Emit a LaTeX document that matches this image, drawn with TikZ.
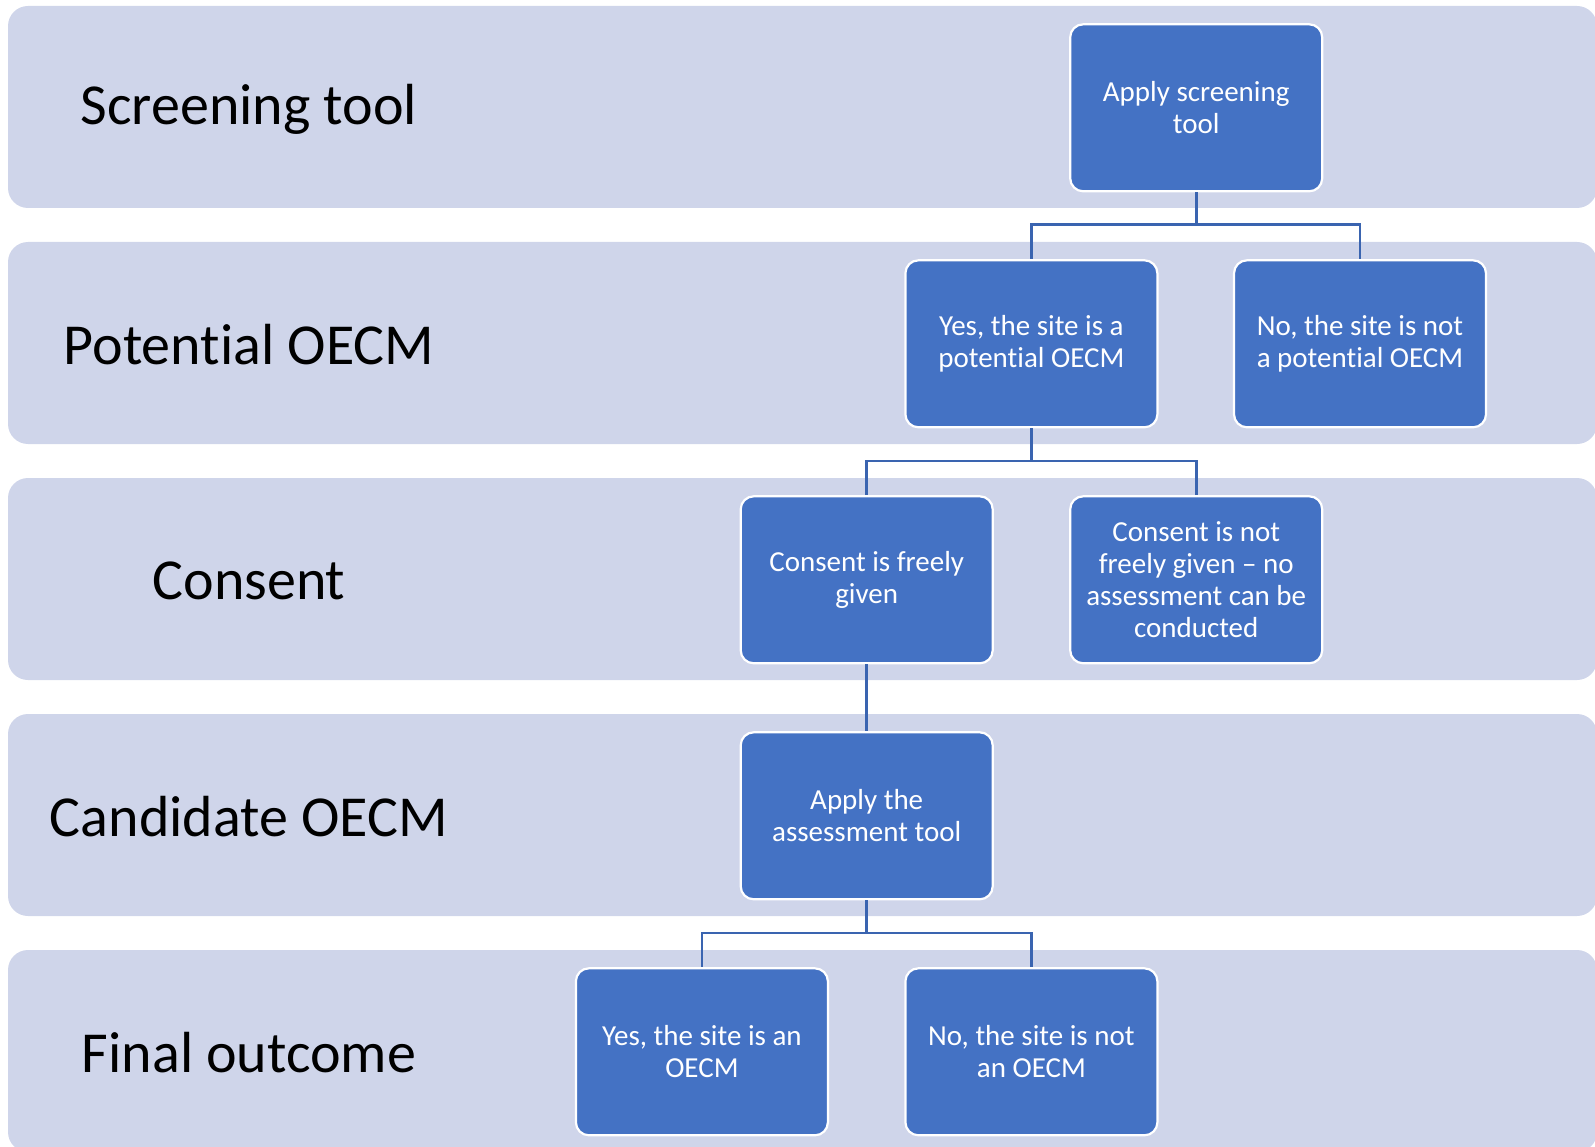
\documentclass[tikz,border=0pt]{standalone}
\usepackage{fontspec}
\setmainfont[RawFeature={-liga,-clig,-dlig}]{Carlito}
\newcommand{\nolig}{\kern0pt\relax}
\begin{document}
\begin{tikzpicture}[x=1pt,y=-1pt,
  band/.style={fill=bandfill,draw=none,rounded corners=20pt},
  lbl/.style={font=\fontsize{58}{66}\selectfont,text=black,anchor=center},
  stepbox/.style={fill=boxfill,draw=white,line width=2.2pt,rounded corners=13pt,
    minimum width=252pt,minimum height=167pt,inner sep=0pt,align=center,
    text=white,font=\fontsize{29}{32}\selectfont},
  conn/.style={draw=connblue,line width=2.6pt}]
\definecolor{bandfill}{HTML}{CFD5EA}
\definecolor{boxfill}{HTML}{4472C4}
\definecolor{connblue}{HTML}{3A64B0}
\useasboundingbox (0,0) rectangle (1595,1147);
\begin{scope}
\clip (0,0) rectangle (1595,1147);
\foreach \t in {6,242,478,714,950}{
  \path[band] (8,\t) rectangle (1597,\t+202);
}
\end{scope}
% row labels
\node[lbl] (l1) at (249,109) {Screening tool};
\node[lbl] (l2) at (249,345) {Potent\nolig ial OECM};
\node[lbl] (l3) at (249,581) {Consent};
\node[lbl] (l4) at (249,817) {Candidate OECM};
\node[lbl] (l5) at (249,1053) {Final outcome};
% boxes
\node[stepbox] (A) at (1196.2,107.8) {Apply screening\\tool};
\node[stepbox] (B) at (1031.4,343.8) {Yes, the site is a\\potent\nolig ial OECM};
\node[stepbox] (C) at (1360.0,343.8) {No, the site is not\\a potent\nolig ial OECM};
\node[stepbox] (D) at (866.7,579.8) {Consent is freely\\given};
\node[stepbox] (E) at (1196.2,579.8) {Consent is not\\freely given – no\\assessment can be\\conducted};
\node[stepbox] (F) at (866.7,815.8) {Apply the\\assessment tool};
\node[stepbox] (G) at (701.9,1051.8) {Yes, the site is an\\OECM};
\node[stepbox] (H) at (1031.4,1051.8) {No, the site is not\\an OECM};
% connectors
\coordinate (j1) at (1196.2,224.8);
\coordinate (j2) at (1031.4,460.8);
\coordinate (j3) at (866.7,932.8);
\draw[conn] (A.south) -- (j1) -| (B.north);
\draw[conn] (j1) -| (C.north);
\draw[conn] (B.south) -- (j2) -| (D.north);
\draw[conn] (j2) -| (E.north);
\draw[conn] (D.south) -- (F.north);
\draw[conn] (F.south) -- (j3) -| (G.north);
\draw[conn] (j3) -| (H.north);
\end{tikzpicture}
\end{document}
